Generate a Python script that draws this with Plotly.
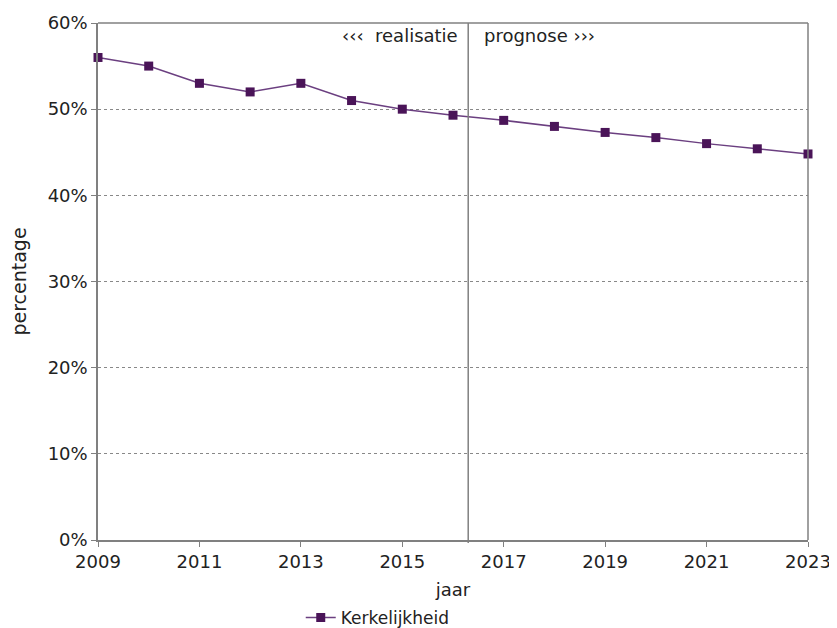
import plotly.graph_objects as go

years = list(range(2009, 2024))
kerkelijkheid = [56.0, 55.0, 53.0, 52.0, 53.0, 51.0, 50.0, 49.3, 48.7, 48.0, 47.3, 46.7, 46.0, 45.4, 44.8]
y_ticks = [0, 10, 20, 30, 40, 50, 60]
y_ticklabels = [f"{v}%" for v in y_ticks]
x_ticks = list(range(2009, 2024, 2))
divider_year = 2016.3

FONT = "Verdana, DejaVu Sans, sans-serif"

fig = go.Figure()
fig.add_trace(go.Scatter(
    x=years, y=kerkelijkheid, mode="lines+markers", name="Kerkelijkheid",
    line=dict(color="#6b3f80", width=1.5),
    marker=dict(symbol="square", size=9, color="#4a1458"),
    cliponaxis=False,
))

fig.add_shape(type="line", xref="x", yref="paper", x0=divider_year, x1=divider_year,
              y0=-0.006, y1=1, line=dict(color="#808080", width=1.5))

fig.add_annotation(x=divider_year, y=1, xref="x", yref="paper", xanchor="right", yanchor="top",
                   xshift=-8, yshift=0, text="‹‹‹  realisatie", showarrow=False,
                   font=dict(family=FONT, size=18, color="#222222"))
fig.add_annotation(x=divider_year, y=1, xref="x", yref="paper", xanchor="left", yanchor="top",
                   xshift=14, yshift=0, text="prognose ›››", showarrow=False,
                   font=dict(family=FONT, size=18, color="#222222"))

fig.update_layout(
    width=829, height=620,
    margin=dict(l=90, r=29, t=15, b=88, autoexpand=False),
    paper_bgcolor="white", plot_bgcolor="white",
    font=dict(family=FONT, size=18, color="#222222"),
    showlegend=True,
    legend=dict(orientation="h", x=0.394, xanchor="center", y=-0.151, yanchor="middle",
                font=dict(size=17), itemwidth=30),
    xaxis=dict(range=[2009, 2023], tickvals=x_ticks, ticks="outside", ticklen=5,
               tickcolor="#808080", showgrid=False, showline=True, linecolor="#808080",
               linewidth=1.5, mirror=False, zeroline=False, automargin=False,
               tickfont=dict(size=18),
               title=dict(text="jaar", standoff=12, font=dict(size=18))),
    yaxis=dict(range=[0, 60], tickvals=y_ticks, ticktext=y_ticklabels, ticks="outside",
               ticklen=5, tickcolor="#808080", showgrid=True, gridcolor="#888888",
               griddash="dot", gridwidth=1, showline=True, linecolor="#808080",
               linewidth=1.5, zeroline=False, automargin=False,
               tickfont=dict(size=18),
               title=dict(text="percentage", standoff=19, font=dict(size=19))),
)

# top and right borders
fig.add_shape(type="line", xref="paper", yref="paper", x0=0, x1=1, y0=1, y1=1,
              line=dict(color="#808080", width=1.5))
fig.add_shape(type="line", xref="paper", yref="paper", x0=1, x1=1, y0=0, y1=1,
              line=dict(color="#808080", width=1.5))

fig.write_html("out.html")
